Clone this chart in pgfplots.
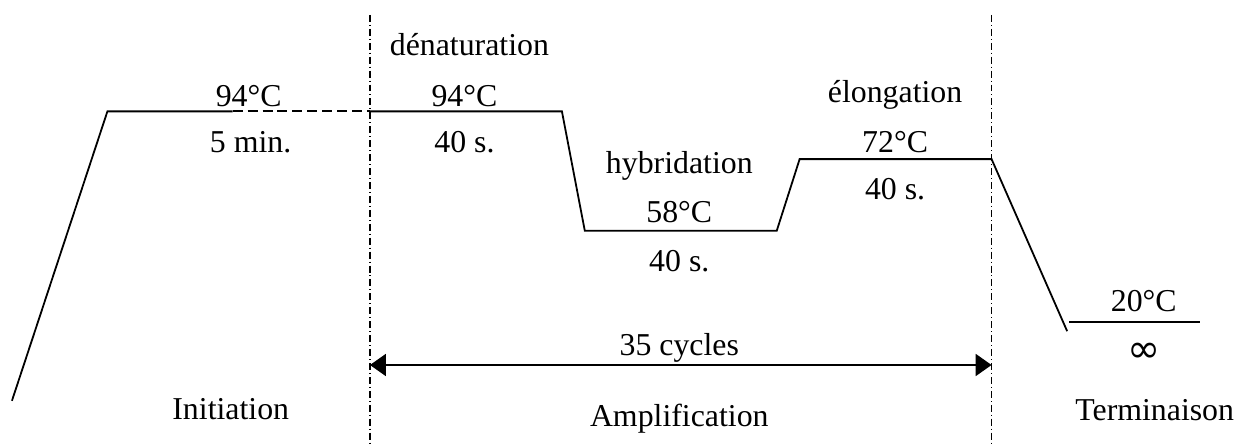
\documentclass[border=0pt]{standalone}
\usepackage{fontspec}
\setmainfont{Liberation Serif}
\newfontfamily\dv{DejaVu Sans}
\usepackage{pgfplots}
\pgfplotsset{compat=1.18}
\usetikzlibrary{arrows.meta}
\newcommand\fs{\fontsize{16}{19}\selectfont}
\begin{document}
\begin{tikzpicture}
\begin{axis}[
  width=617pt, height=224pt, scale only axis,
  xmin=0, xmax=1234, ymin=0, ymax=448, y dir=reverse,
  hide axis, clip=false,
]
\path (axis cs:0,0) rectangle (axis cs:1234,448);
% temperature profile
\addplot[black, line width=0.9pt] coordinates {(12,403) (108,112) (234,112)};
\addplot[black, line width=0.9pt, dash pattern=on 5pt off 2.5pt] coordinates {(234,112) (372,112)};
\addplot[black, line width=0.9pt] coordinates {(372,112) (565,112) (588,232) (781,232) (804,160) (997,160) (1073,333)};
\addplot[black, line width=0.9pt] coordinates {(1075,324) (1207,324)};
% separators
\addplot[black, line width=0.7pt, dash pattern=on 3.5pt off 1.5pt on 0.5pt off 1.5pt] coordinates {(372,15) (372,448)};
\addplot[black, line width=0.7pt, dash pattern=on 3.5pt off 1.5pt on 0.5pt off 1.5pt] coordinates {(997,15) (997,448)};
% cycles arrow
\addplot[black, line width=1.1pt, {Triangle[length=8pt,width=11pt]}-{Triangle[length=8pt,width=11pt]}] coordinates {(372,367) (997,367)};
% labels
\node[inner sep=0pt] at (axis cs:250,97) {\fs 94°C};
\node[inner sep=0pt] at (axis cs:252,143) {\fs 5 min.};
\node[inner sep=0pt] at (axis cs:472,45) {\fs dénaturation};
\node[inner sep=0pt] at (axis cs:467,97) {\fs 94°C};
\node[inner sep=0pt] at (axis cs:467,143) {\fs 40 s.};
\node[inner sep=0pt] at (axis cs:683,167) {\fs hybridation};
\node[inner sep=0pt] at (axis cs:683,213) {\fs 58°C};
\node[inner sep=0pt] at (axis cs:683,263) {\fs 40 s.};
\node[inner sep=0pt] at (axis cs:900,95) {\fs élongation};
\node[inner sep=0pt] at (axis cs:900,143) {\fs 72°C};
\node[inner sep=0pt] at (axis cs:900,190) {\fs 40 s.};
\node[inner sep=0pt] at (axis cs:1150,303) {\fs 20°C};
\node[inner sep=0pt] at (axis cs:1150,355) {\dv\fontsize{20}{22}\selectfont ∞};
\node[inner sep=0pt] at (axis cs:683,350) {\fs 35 cycles};
\node[inner sep=0pt] at (axis cs:232,411) {\fs Initiation};
\node[inner sep=0pt] at (axis cs:683,421) {\fs Amplification};
\node[inner sep=0pt] at (axis cs:1161,412) {\fs Terminaison};
\end{axis}
\end{tikzpicture}
\end{document}
